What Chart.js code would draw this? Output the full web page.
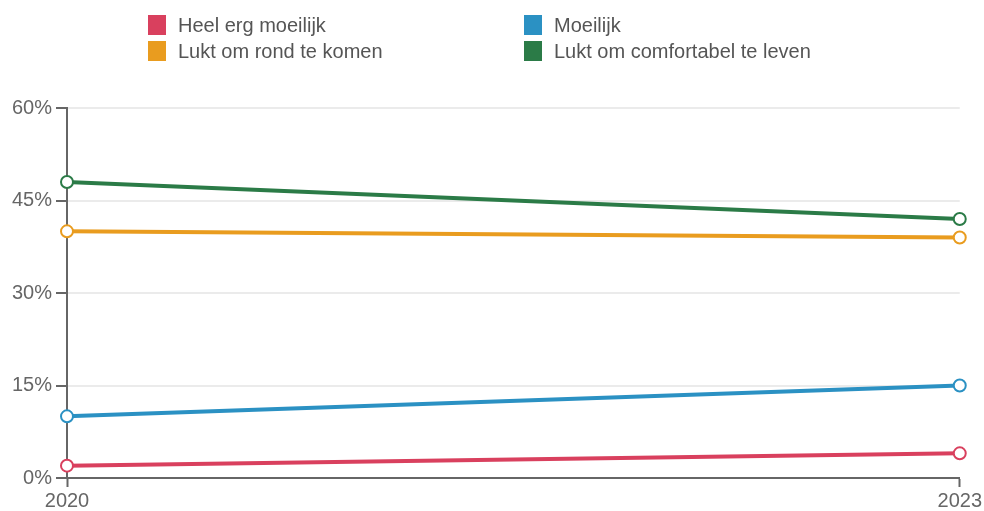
<!DOCTYPE html>
<html>
<head>
<meta charset="utf-8">
<script src="https://cdn.jsdelivr.net/npm/chart.js@4"></script>
<style>
  body { margin: 0; background: #fff; font-family: "Liberation Sans", Arial, sans-serif; }
  #wrap { position: relative; width: 984px; height: 511px; }
  #legend { position: absolute; left: 148px; top: 15px; width: 720px; }
  .item { position: absolute; display: flex; align-items: center; font-size: 20px; line-height: 20px; color: #555; white-space: nowrap; }
  .item span.box { display: inline-block; width: 18px; height: 20px; margin-right: 12px; }
</style>
</head>
<body>
<div id="wrap">
  <canvas id="chart" width="984" height="511"></canvas>
  <div id="legend"></div>
</div>
<script>
const years = ['2020', '2023'];
const heelErgMoeilijk = [2, 4];
const moeilijk = [10, 15];
const ruimRondKomen = [40, 39];
const comfortabel = [48, 42];

const series = [
    { label: 'Heel erg moeilijk', data: heelErgMoeilijk, color: '#d9405e' },
    { label: 'Moeilijk', data: moeilijk, color: '#2b91c3' },
    { label: 'Lukt om rond te komen', data: ruimRondKomen, color: '#e99c1f' },
    { label: 'Lukt om comfortabel te leven', data: comfortabel, color: '#2b7b47' }
];

// legenda in twee kolommen
const legend = document.getElementById('legend');
series.forEach((s, i) => {
    const div = document.createElement('div');
    div.className = 'item';
    div.style.left = (i % 2 === 0 ? 0 : 376) + 'px';
    div.style.top = (i < 2 ? 0 : 26) + 'px';
    div.innerHTML = `<span class="box" style="background:${s.color}"></span>${s.label}`;
    legend.appendChild(div);
});

new Chart(document.getElementById('chart'), {
    type: 'line',
    data: {
        labels: years,
        datasets: series.map(s => ({
            label: s.label,
            data: s.data,
            borderColor: s.color,
            backgroundColor: '#fff',
            borderWidth: 4,
            pointRadius: 6,
            pointBorderWidth: 2,
            pointBackgroundColor: '#fff',
            pointBorderColor: s.color,
            tension: 0
        }))
    },
    options: {
        responsive: false,
        animation: false,
        layout: { padding: { top: 108, right: 24, left: 0, bottom: 0 } },
        plugins: { legend: { display: false }, tooltip: { enabled: false } },
        scales: {
            x: {
                offset: false,
                grid: { drawOnChartArea: false, tickLength: 9, tickColor: '#666', tickWidth: 2 },
                border: { color: '#666', width: 2 },
                ticks: { color: '#666', font: { size: 20, family: 'Liberation Sans' }, padding: 2, maxRotation: 0 },
                afterFit: scale => { scale.height = 33; }
            },
            y: {
                min: 0,
                max: 60,
                grid: { color: '#ebebeb', lineWidth: 2, tickLength: 11, tickColor: '#666', tickWidth: 2 },
                border: { color: '#666', width: 2 },
                ticks: {
                    stepSize: 15,
                    color: '#666',
                    font: { size: 20, family: 'Liberation Sans' },
                    padding: 4,
                    callback: v => v + '%'
                },
                afterFit: scale => { scale.width = 67; }
            }
        }
    }
});
</script>
</body>
</html>
